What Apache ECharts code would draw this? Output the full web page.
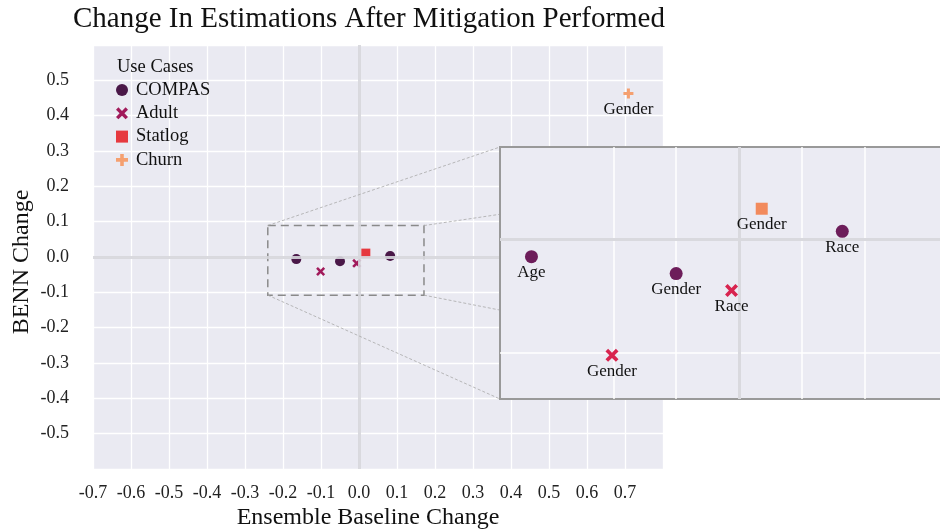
<!DOCTYPE html>
<html>
<head>
<meta charset="utf-8">
<script src="https://cdn.jsdelivr.net/npm/echarts@6/dist/echarts.min.js"></script>
<style>
	html, body { margin: 0; padding: 0; background: #fff; }
	#chart { width: 940px; height: 531px; }
</style>
</head>
<body>
<div id="chart"></div>
<script>
	// values
	const compasX = [-0.165, -0.05, 0.082]
	const compasY = [-0.006, -0.012, 0.003]
	const compasLabels = ['Age', 'Gender', 'Race']
	const adultX = [-0.101, -0.006]
	const adultY = [-0.041, -0.018]
	const adultLabels = ['Gender', 'Race']
	const statlogX = [0.018]
	const statlogY = [0.011]
	const statlogLabels = ['Gender']
	const churnX = [0.709]
	const churnY = [0.463]
	const churnLabels = ['Gender']

	const useCases = ['COMPAS', 'Adult', 'Statlog', 'Churn']
	const mainColors = ['#4a1848', '#a11a5b', '#e6393f', '#f5a070']
	const insetColors = ['#6d1d5a', '#d8244f', '#f28a5c']

	// zoom box shown on the main plot and the inset range
	const zoomX = [-0.24, 0.171]
	const zoomY = [-0.108, 0.089]
	const insetX = [-0.19, 0.17]
	const insetY = [-0.0565, 0.0329]
	const insetGridX = [-0.1, -0.05, 0.05, 0.1]
	const insetGridY = [-0.04]

	const font = 'Liberation Serif'
	const xSym = 'path://M0,2 L2,0 L5,3 L8,0 L10,2 L7,5 L10,8 L8,10 L5,7 L2,10 L0,8 L3,5 Z'
	const plusSym = 'path://M3.5,0 L6.5,0 L6.5,3.5 L10,3.5 L10,6.5 L6.5,6.5 L6.5,10 L3.5,10 L3.5,6.5 L0,6.5 L0,3.5 L3.5,3.5 Z'
	const symbols = ['circle', xSym, 'rect', plusSym]

	const pts = (xs, ys, labels) => xs.map((x, i) => ({ value: [x, ys[i]], name: labels[i] }))

	const fmt = (v, hide) => {
		if (hide.some(h => Math.abs(v - h) < 1e-6)) return ''
		if (Math.abs(v) < 1e-9) return '0.0'
		return v.toFixed(1)
	}

	const hiddenAxis = (range) => ({
		type: 'value', gridIndex: 1, min: range[0], max: range[1], show: false,
		splitLine: { show: false }
	})

	const mainSeries = (name, data, i, extra) => Object.assign({
		name: name,
		type: 'scatter',
		xAxisIndex: 0,
		yAxisIndex: 0,
		symbol: symbols[i],
		symbolSize: 10,
		itemStyle: { color: mainColors[i], opacity: 1 },
		data: data,
		z: 2
	}, extra || {})

	const insetLabel = {
		show: true,
		position: 'bottom',
		distance: 1,
		formatter: '{b}',
		fontFamily: font,
		fontSize: 17,
		color: '#111'
	}

	const insetSeries = (name, data, i, size) => ({
		name: name + ' ',
		type: 'scatter',
		xAxisIndex: 1,
		yAxisIndex: 1,
		symbol: symbols[i],
		symbolSize: size,
		itemStyle: { color: insetColors[i], opacity: 1 },
		label: insetLabel,
		data: data,
		z: 8
	})

	const chart = echarts.init(document.getElementById('chart'))

	let option = {
		animation: false,
		grid: [{
			left: 93, right: 277, top: 45, bottom: 62,
			show: true, backgroundColor: '#eaeaf2', borderWidth: 0
		}, {
			// the inset runs past the right edge of the picture
			left: 500, width: 453, top: 147, bottom: 132,
			outerBoundsMode: 'none'
		}],
		xAxis: [{
			type: 'value', gridIndex: 0, min: -0.7, max: 0.8, interval: 0.1,
			axisLine: { show: false },
			axisTick: { show: false },
			splitLine: { lineStyle: { color: '#ffffff', width: 1.3 } },
			axisLabel: {
				margin: 15, fontFamily: font, fontSize: 18, color: '#222',
				formatter: v => fmt(v, [0.8])
			}
		}, hiddenAxis(insetX)],
		yAxis: [{
			type: 'value', gridIndex: 0, min: -0.6, max: 0.6, interval: 0.1,
			axisLine: { show: false },
			axisTick: { show: false },
			splitLine: { lineStyle: { color: '#ffffff', width: 1.3 } },
			axisLabel: {
				margin: 24, fontFamily: font, fontSize: 18, color: '#222',
				formatter: v => fmt(v, [0.6, -0.6])
			}
		}, hiddenAxis(insetY)],
		legend: {
			data: useCases,
			orient: 'vertical',
			left: 116,
			top: 80.5,
			padding: 0,
			itemWidth: 12,
			itemHeight: 12,
			itemGap: 4.3,
			textStyle: { fontFamily: font, fontSize: 18.5, color: '#111', lineHeight: 18, padding: [0, 0, 0, 3] }
		},
		series: [
			mainSeries('COMPAS', pts(compasX, compasY, compasLabels), 0, {
				markLine: {
					silent: true, symbol: 'none', z: 5,
					label: { show: false },
					lineStyle: { color: 'rgba(214,214,220,0.9)', width: 3, type: 'solid' },
					data: [{ xAxis: 0 }, { yAxis: 0 }]
				},
				markArea: {
					silent: true, z: 1,
					itemStyle: { color: 'transparent', borderColor: '#8a8a8a', borderWidth: 1.5, borderType: [8, 5] },
					data: [[{ coord: [zoomX[0], zoomY[1]] }, { coord: [zoomX[1], zoomY[0]] }]]
				}
			}),
			mainSeries('Adult', pts(adultX, adultY, adultLabels), 1, { symbolSize: 9 }),
			mainSeries('Statlog', pts(statlogX, statlogY, statlogLabels), 2, { symbolSize: 9 }),
			mainSeries('Churn', pts(churnX, churnY, churnLabels), 3, {
				label: Object.assign({}, insetLabel, { distance: 3 })
			}),
			Object.assign(insetSeries('COMPAS', pts(compasX, compasY, compasLabels), 0, 13), {
				markLine: {
					silent: true, symbol: 'none', z: 7,
					label: { show: false },
					data: insetGridX.map(v => ({ xAxis: v, lineStyle: { color: '#ffffff', width: 1.5, type: 'solid' } }))
						.concat(insetGridY.map(v => ({ yAxis: v, lineStyle: { color: '#ffffff', width: 1.5, type: 'solid' } })))
						.concat([
							{ xAxis: 0, lineStyle: { color: '#d9d9de', width: 3, type: 'solid' } },
							{ yAxis: 0, lineStyle: { color: '#d9d9de', width: 3, type: 'solid' } }
						])
				}
			}),
			insetSeries('Adult', pts(adultX, adultY, adultLabels), 1, 13),
			insetSeries('Statlog', pts(statlogX, statlogY, statlogLabels), 2, 12)
		]
	}

	chart.setOption(option)

	// connector lines, inset frame and texts
	const m = v => chart.convertToPixel({ xAxisIndex: 0, yAxisIndex: 0 }, v)
	const n = v => chart.convertToPixel({ xAxisIndex: 1, yAxisIndex: 1 }, v)
	const boxTL = m([zoomX[0], zoomY[1]]), boxBL = m([zoomX[0], zoomY[0]])
	const boxTR = m([zoomX[1], zoomY[1]]), boxBR = m([zoomX[1], zoomY[0]])
	const inTL = n([insetX[0], insetY[1]]), inBR = n([insetX[1], insetY[0]])
	const inBL = [inTL[0], inBR[1]], inTR = [inBR[0], inTL[1]]

	const connector = (a, b) => ({
		type: 'line', z: 5, silent: true,
		shape: { x1: a[0], y1: a[1], x2: b[0], y2: b[1] },
		style: { stroke: '#a8a8a8', lineWidth: 0.8, lineDash: [3, 2] }
	})

	const txt = (text, x, y, size, align, extra) => Object.assign({
		type: 'text', x: x, y: y, silent: true,
		style: { text: text, font: size + 'px "' + font + '"', fill: '#111', textAlign: align, textVerticalAlign: 'middle' }
	}, extra || {})

	chart.setOption({
		graphic: [
			connector(boxTL, inTL),
			connector(boxBL, inBL),
			connector(boxTR, inTR),
			connector(boxBR, inBR),
			{
				type: 'rect', z: 6, silent: true,
				shape: { x: inTL[0], y: inTL[1], width: inBR[0] - inTL[0], height: inBR[1] - inTL[1] },
				style: { fill: '#ebebf3', stroke: '#999999', lineWidth: 2 }
			},
			txt('Change In Estimations After Mitigation Performed', 73, 19, 29, 'left'),
			txt('Use Cases', 117, 67, 18.5, 'left'),
			txt('Ensemble Baseline Change', 368, 518, 24, 'center'),
			txt('BENN Change', 22, 262, 24, 'center', { rotation: Math.PI / 2 })
		]
	})
</script>
</body>
</html>
